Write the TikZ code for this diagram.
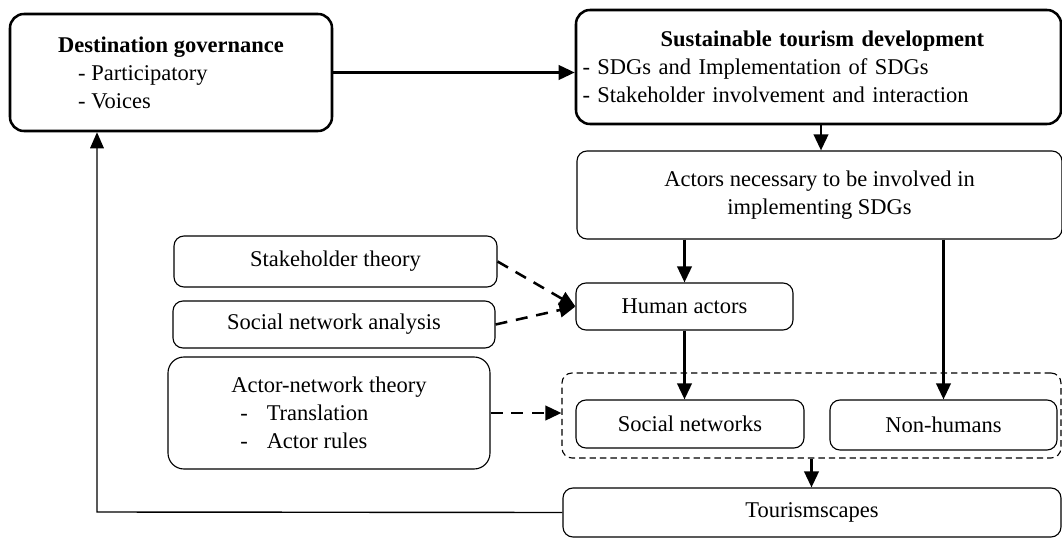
\documentclass[tikz,border=0pt]{standalone}
\usepackage{fontspec}
\setmainfont{Liberation Serif}
\usetikzlibrary{positioning}
\usetikzlibrary{arrows.meta}

\tikzset{
  box/.style={rectangle, rounded corners=2.5mm, draw, line width=0.8pt, align=center, inner sep=2pt},
  bigbox/.style={box, rounded corners=3.5mm, line width=1.8pt},
  groupbox/.style={box, dashed, dash pattern=on 1.6mm off 1mm},
  link/.style={line width=1.8pt, -{Triangle[length=4mm,width=3.6mm]}},
  dlink/.style={link, dash pattern=on 3mm off 2.2mm},
  back/.style={line width=1pt, -{Triangle[length=4mm,width=3.4mm]}},
}

\begin{document}
\begin{tikzpicture}[font=\fontsize{16}{20}\selectfont]
   \useasboundingbox (0,0) rectangle (26.55,13.525);

   \node[bigbox,
          minimum width = 8.05cm,
          minimum height = 2.925cm,
          align=left] (gov) at (4.275,11.7125)
          {\textbf{Destination governance}\\\hspace*{0.5cm}- Participatory\\\hspace*{0.5cm}- Voices};
   \node[bigbox,
          minimum width = 12.125cm,
          minimum height = 2.85cm,
          text width = 11.8cm,
          inner sep = 0.16cm,
          align=left] (std) at (20.4625,11.85)
          {\hspace*{1.95cm}\textbf{Sustainable tourism development}\\- SDGs and Implementation of SDGs\\- Stakeholder involvement and interaction};
   \node[box,
          minimum width = 12.125cm,
          minimum height = 2.2cm] (need) at (20.4875,8.65)
          {Actors necessary to be involved in\\implementing SDGs};

   \node[box,
          minimum width = 8.075cm,
          minimum height = 1.275cm] (stake) at (8.3875,6.9875) {Stakeholder theory};
   \node[box,
          minimum width = 8.05cm,
          minimum height = 1.175cm] (sna) at (8.35,5.4125) {Social network analysis};
   \node[box,
          minimum width = 5.425cm,
          minimum height = 1.175cm] (human) at (17.1125,5.8625) {Human actors};
   \node[box,
          rounded corners=4mm,
          minimum width = 8.05cm,
          minimum height = 2.8cm,
          align=left] (ant) at (8.225,3.2)
          {Actor-network theory\\\hspace*{0.225cm}-\hspace{0.47cm}Translation\\\hspace*{0.225cm}-\hspace{0.47cm}Actor rules};

   \node[groupbox,
          minimum width = 12.475cm,
          minimum height = 2.125cm] (group) at (20.2875,3.1375) {};
   \node[box,
          minimum width = 5.7cm,
          minimum height = 1.2cm] (social) at (17.25,2.925) {Social networks};
   \node[box,
          minimum width = 5.675cm,
          minimum height = 1.25cm] (nonhuman) at (23.5875,2.9) {Non-humans};
   \node[box,
          minimum width = 12.45cm,
          minimum height = 1.225cm] (scapes) at (20.3,0.7125) {Tourismscapes};

   \coordinate (turn) at (2.425,0.725);

   \draw [link] (gov.east) -- (gov.east -| std.west);
   \draw [link] (std.south -| 20.525,0) -- (need.north -| 20.525,0);
   \draw [link] (need.south -| human) -- (human.north);
   \draw [link] (need.south -| nonhuman) -- (nonhuman.north);
   \draw [link] (human.south) -- (human.south |- social.north);
   \draw [link] (group.south) -- (group.south |- scapes.north);
   \draw [dlink] (stake.east) -- (human.west);
   \draw [dlink] (sna.east) -- (human.west);
   \draw [dlink] (ant.east) -- (ant.east -| group.west);
   \draw [back] (scapes.west) -- (turn) -- (turn |- gov.south);
\end{tikzpicture}
\end{document}
